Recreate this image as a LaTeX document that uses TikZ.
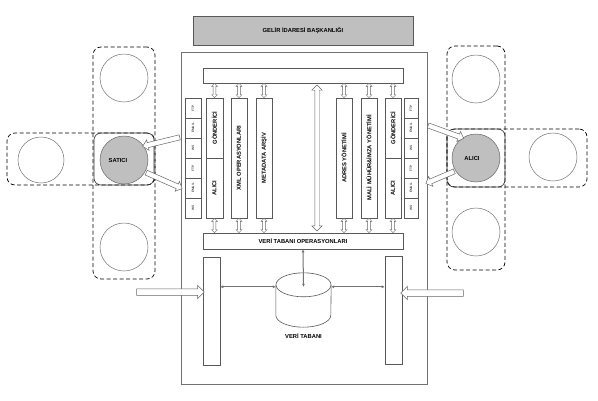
\documentclass[tikz,border=0pt]{standalone}
\usepackage{fontspec}
\setmainfont{Liberation Sans}
\usetikzlibrary{positioning,shapes.arrows,calc,arrows.meta}

\tikzset{
  lbl/.style={font=\fontsize{5.8}{6.5}\selectfont\bfseries},
  box/.style={draw=black!65, fill=white, line width=0.6pt, inner sep=0pt},
  colbox/.style={box, lbl, minimum width=16pt},
  proto/.style={box, minimum height=20pt, font=\fontsize{3.2}{3.5}\selectfont},
  ring/.style={circle, draw=black!55, fill=white, line width=0.5pt, minimum size=48pt, inner sep=0pt},
  actor/.style={ring, fill=black!25, draw=black!60},
  zone/.style={draw=black, dash pattern=on 4pt off 2.5pt, rounded corners=8pt, line width=0.7pt, inner sep=0pt},
  core/.style={draw=black!80, rounded corners=7pt, line width=0.6pt, inner sep=0pt},
  fatarr/.style={single arrow, draw=black!60, fill=white, line width=0.5pt, inner sep=2.3pt,
    single arrow head extend=2.8pt, single arrow tip angle=90},
  bigarr/.style={fatarr, inner sep=3pt, single arrow head extend=3.5pt},
  tinyarr/.style={double arrow, draw=black!60, fill=white, line width=0.4pt, inner sep=1.2pt,
    double arrow head extend=1.6pt, double arrow tip angle=90},
  busarr/.style={tinyarr, inner sep=2pt, double arrow head extend=3pt},
  link/.style={draw=black!55, line width=1pt, {Latex[length=3pt,width=3pt]}-{Latex[length=3pt,width=3pt]}}
}

% hollow arrow from #2 to #3, style in #1
\newcommand{\fatarrow}[3][fatarr]{%
  \path let \p1=(#2), \p2=(#3), \n1={atan2(\y2-\y1,\x2-\x1)}, \n2={veclen(\x2-\x1,\y2-\y1)} in
    node[#1, minimum height=\n2, rotate=\n1] at ($(\p1)!0.5!(\p2)$) {};%
}

\begin{document}
\begin{tikzpicture}[x=1pt, y=-1pt]
\useasboundingbox (0,0) rectangle (598,400);

% header and frame
\node[box, fill=black!25, lbl, minimum width=220pt, minimum height=29pt] (gib) at (303,30.5) {GELİR İDARESİ BAŞKANLIĞI};
\node[box, draw=black!55, minimum width=246pt, minimum height=332pt] (frame) at (304,218) {};

% bars
\node[box, minimum width=200pt, minimum height=15pt] (topbar) at (303,75.5) {};
\node[box, lbl, minimum width=200pt, minimum height=16pt] (dbops) at (303,241) {VERİ TABANI OPERASYONLARI};

% columns
\node[colbox, minimum width=17pt, minimum height=60pt] (gsnd) at (214.5,128) {\rotatebox{90}{GÖNDERİCİ}};
\node[colbox, minimum width=17pt, minimum height=60pt] (galc) at (214.5,188) {\rotatebox{90}{ALICI}};
\node[colbox, minimum height=120pt] (xml) at (239,158) {\rotatebox{90}{XML OPERASYONLARI}};
\node[colbox, minimum height=120pt] (meta) at (264,158) {\rotatebox{90}{METADATA ARŞİV}};
\node[colbox, minimum height=120pt] (adres) at (344,158) {\rotatebox{90}{ADRES YÖNETİMİ}};
\node[colbox, minimum height=120pt] (mali) at (369,158) {\rotatebox{90}{MALİ MÜHÜR\&İMZA YÖNETİMİ}};
\node[colbox, minimum height=60pt] (rsnd) at (393,128) {\rotatebox{90}{GÖNDERİCİ}};
\node[colbox, minimum height=60pt] (ralc) at (393,188) {\rotatebox{90}{ALICI}};

% protocols
\foreach \t [count=\i] in {FTP,EMAIL,WS,FTP,EMAIL,WS} {
  \node[proto, minimum width=16pt] (lp\i) at (193,88+20*\i) {\rotatebox{90}{\t}};
  \node[proto, minimum width=14pt] (rp\i) at (411,88+20*\i) {\rotatebox{90}{\t}};
}

% small arrows to the bars
\foreach \c in {gsnd,xml,meta,adres,mali,rsnd}
  \fatarrow[tinyarr]{topbar.south -| \c.north}{\c.north};
\foreach \c in {galc,xml,meta,adres,mali,ralc}
  \fatarrow[tinyarr]{\c.south}{dbops.north -| \c.south};
\coordinate (busT) at (317,85);
\coordinate (busB) at (317,231);
\fatarrow[busarr]{busT}{busB};

% database
\node[box, minimum width=17pt, minimum height=108pt] (ltall) at (211.5,311) {};
\node[box, minimum width=17pt, minimum height=108pt] (rtall) at (393.5,310) {};
\node[minimum width=55pt, minimum height=54pt, inner sep=0pt] (db) at (303.5,300) {};
\filldraw[box] ($(db.north west)+(0,12)$) -- ($(db.south west)+(0,-12)$)
  arc[start angle=180, end angle=360, x radius=27.5pt, y radius=12pt] -- ($(db.north east)+(0,12)$);
\filldraw[box] ($(db.north)+(0,12)$) ellipse[x radius=27.5pt, y radius=12pt];
\node[lbl, below=3pt of db] (dblbl) {VERİ TABANI};
\coordinate (dbc) at ($(db.north)+(0,14)$);
\draw[link] (dbops.south) -- (dbc);
\draw[link] (ltall.east |- dbc) -- (db.west |- dbc);
\draw[link] (db.east |- dbc) -- (rtall.west |- dbc);
\coordinate (inL) at (135,292);
\coordinate (inR) at (465,293);
\fatarrow[bigarr]{inL}{ltall.west |- inL};
\fatarrow[bigarr]{inR}{rtall.east |- inR};

% seller side
\node[zone, minimum width=62pt, minimum height=232pt] (lv) at (124,163) {};
\node[zone, minimum width=148pt, minimum height=52pt] (lh) at (81,159) {};
\node[core, minimum width=60pt, minimum height=52pt] (lc) at (124,159) {};
\node[ring] (lt) at (124,78) {};
\node[ring, minimum size=46pt] (ll) at (41,160) {};
\node[ring] (lb) at (124,247) {};
\node[actor, label={[lbl, xshift=-6pt]center:SATICI}] (sat) at (124,160) {};

% buyer side
\node[zone, minimum width=58pt, minimum height=224pt] (rv) at (476,158) {};
\node[zone, minimum width=140pt, minimum height=58pt] (rh) at (517,158) {};
\node[core, minimum width=58pt, minimum height=58pt] (rc) at (476,158) {};
\node[ring] (rt) at (476,79) {};
\node[ring] (rr) at (553,157) {};
\node[ring] (rb) at (476,232) {};
\node[actor, label={[lbl, xshift=-4pt]center:ALICI}] (alc) at (476,158) {};

% exchange arrows
\coordinate (fL1) at (181,137);
\coordinate (fL2) at (181,188);
\coordinate (fR1) at (427,125);
\coordinate (fR2) at (427,183);
\fatarrow{fL1}{sat.35};
\fatarrow{sat.-30}{fL2};
\fatarrow{fR1}{alc.124};
\fatarrow{alc.212}{fR2};
\end{tikzpicture}
\end{document}
